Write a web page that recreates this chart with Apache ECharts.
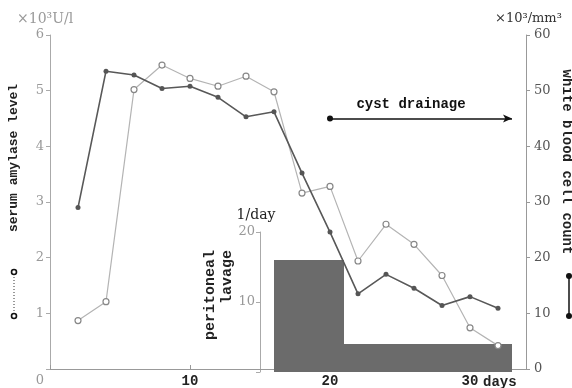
<!DOCTYPE html>
<html>
<head>
<meta charset="utf-8">
<script src="https://cdn.jsdelivr.net/npm/echarts@6/dist/echarts.min.js"></script>
<style>
html, body { margin: 0; padding: 0; background: #fff; }
#chart { width: 572px; height: 388px; }
</style>
</head>
<body>
<div id="chart"></div>
<script>
// day of measurement
var days = [2, 4, 6, 8, 10, 12, 14, 16, 18, 20, 22, 24, 26, 28, 30, 32];
// serum amylase (x10^3 U/l)
var amylase = [0.87, 1.21, 5.02, 5.46, 5.22, 5.08, 5.26, 4.98, 3.16, 3.28, 1.94, 2.60, 2.24, 1.68, 0.74, 0.42];
// white blood cell count (x10^3 /mm3)
var wbc = [29.0, 53.5, 52.8, 50.4, 50.8, 48.8, 45.3, 46.2, 35.2, 24.6, 13.5, 17.0, 14.5, 11.4, 13.0, 10.9];
// peritoneal lavage: from day, to day, times per day
var lavageFrom = [16, 21];
var lavageTo = [21, 33];
var lavagePerDay = [16, 4];
// cyst drainage period
var drainageDays = [20, 33];
var drainageLevel = 45;
var xTickLabels = [10, 20, 30];

var monoBold = 'bold 14px "Liberation Mono"';
var serif = '13px "DejaVu Serif"';

var myChart = echarts.init(document.getElementById('chart'));

var lavageData = [];
for (var i = 0; i < lavageFrom.length; i++) {
    lavageData.push([lavageFrom[i], lavageTo[i], lavagePerDay[i]]);
}

var option = {
    animation: false,
    grid: [
        { left: 50, right: 46, top: 35, bottom: 16 },
        { left: 260, right: 46, top: 232, bottom: 16 }
    ],
    xAxis: [
        {
            type: 'value', gridIndex: 0, min: 0, max: 34, interval: 10,
            splitLine: { show: false },
            axisLine: { lineStyle: { color: '#999', width: 1 } },
            axisTick: { inside: true, length: 4, lineStyle: { color: '#999' } },
            axisLabel: {
                margin: 5, color: '#222', fontFamily: 'Liberation Mono', fontWeight: 'bold', fontSize: 14,
                formatter: function (v) { return xTickLabels.indexOf(v) >= 0 ? String(v) : ''; }
            }
        },
        { type: 'value', gridIndex: 1, min: 15, max: 34, show: false }
    ],
    yAxis: [
        {
            type: 'value', gridIndex: 0, position: 'left', min: 0, max: 6, interval: 1,
            splitLine: { show: false },
            axisLine: { show: true, lineStyle: { color: '#aaa' } },
            axisTick: { show: true, length: 4, lineStyle: { color: '#aaa' } },
            axisLabel: {
                margin: 6, color: '#999', fontFamily: 'DejaVu Serif', fontSize: 13,
                formatter: function (v) { return v === 0 ? '' : String(v); }
            }
        },
        {
            type: 'value', gridIndex: 0, position: 'right', min: 0, max: 60, interval: 10,
            splitLine: { show: false },
            axisLine: { show: true, lineStyle: { color: '#999' } },
            axisTick: { show: true, length: 4, lineStyle: { color: '#999' } },
            axisLabel: { margin: 8, color: '#555', fontFamily: 'DejaVu Serif', fontSize: 13 }
        },
        {
            type: 'value', gridIndex: 1, position: 'left', min: 0, max: 20, interval: 10,
            splitLine: { show: false },
            axisLine: { show: true, lineStyle: { color: '#aaa' } },
            axisTick: { show: true, length: 4, lineStyle: { color: '#aaa' } },
            axisLabel: {
                margin: 5, color: '#999', fontFamily: 'DejaVu Serif', fontSize: 13,
                formatter: function (v) { return v === 0 ? '' : String(v); }
            }
        }
    ],
    series: [
        {
            // peritoneal lavage blocks
            type: 'custom',
            xAxisIndex: 1, yAxisIndex: 2,
            z: 1,
            encode: { x: [0, 1], y: 2 },
            data: lavageData,
            renderItem: function (params, api) {
                var p0 = api.coord([api.value(0), api.value(2)]);
                var p1 = api.coord([api.value(1), 0]);
                return {
                    type: 'rect',
                    shape: { x: p0[0], y: p0[1], width: p1[0] - p0[0], height: p1[1] - p0[1] },
                    style: { fill: '#6b6b6b' }
                };
            }
        },
        {
            name: 'serum amylase',
            type: 'line',
            xAxisIndex: 0, yAxisIndex: 0,
            z: 3,
            symbol: 'circle', symbolSize: 6,
            itemStyle: { color: '#fff', borderColor: '#888', borderWidth: 1.2 },
            lineStyle: { color: '#b4b4b4', width: 1.2 },
            data: days.map(function (d, i) { return [d, amylase[i]]; })
        },
        {
            name: 'white blood cell count',
            type: 'line',
            xAxisIndex: 0, yAxisIndex: 1,
            z: 4,
            symbol: 'circle', symbolSize: 5,
            itemStyle: { color: '#555' },
            lineStyle: { color: '#585858', width: 1.6 },
            data: days.map(function (d, i) { return [d, wbc[i]]; }),
            markLine: {
                silent: true,
                symbol: ['circle', 'arrow'],
                symbolSize: [6, 9],
                label: { show: false },
                lineStyle: { color: '#111', width: 1.5, type: 'solid' },
                data: [[
                    { coord: [drainageDays[0], drainageLevel] },
                    { coord: [drainageDays[1], drainageLevel] }
                ]]
            }
        }
    ],
    graphic: [
        { type: 'text', x: 40, y: 381, style: { text: '0', font: serif, fill: '#999', align: 'center', verticalAlign: 'middle' } },
        { type: 'text', x: 17, y: 19, style: { text: '×10³U/l', font: '14px "DejaVu Serif"', fill: '#999', align: 'left', verticalAlign: 'middle' } },
        { type: 'text', x: 495, y: 19, style: { text: '×10³/mm³', font: serif, fill: '#333', align: 'left', verticalAlign: 'middle' } },
        { type: 'text', x: 256, y: 215, style: { text: '1/day', font: '14px "DejaVu Serif"', fill: '#222', align: 'center', verticalAlign: 'middle' } },
        { type: 'text', x: 411, y: 104, style: { text: 'cyst drainage', font: monoBold, fill: '#111', align: 'center', verticalAlign: 'middle' } },
        { type: 'text', x: 483, y: 382, style: { text: 'days', font: monoBold, fill: '#222', align: 'left', verticalAlign: 'middle' } },
        { type: 'text', x: 14, y: 158, rotation: Math.PI / 2, style: { text: 'serum amylase level', font: 'bold 13px "Liberation Mono"', fill: '#222', align: 'center', verticalAlign: 'middle' } },
        { type: 'text', x: 567, y: 162, rotation: -Math.PI / 2, style: { text: 'white blood cell count', font: monoBold, fill: '#222', align: 'center', verticalAlign: 'middle' } },
        { type: 'text', x: 210, y: 250, rotation: Math.PI / 2, style: { text: 'peritoneal', font: 'bold 15px "Liberation Mono"', fill: '#222', align: 'right', verticalAlign: 'middle' } },
        { type: 'text', x: 227, y: 250, rotation: Math.PI / 2, style: { text: 'lavage', font: 'bold 15px "Liberation Mono"', fill: '#222', align: 'right', verticalAlign: 'middle' } },
        // legend markers
        { type: 'line', shape: { x1: 14, y1: 274, x2: 14, y2: 314 }, style: { stroke: '#333', lineWidth: 1, lineDash: [1, 2] } },
        { type: 'circle', shape: { cx: 14, cy: 272, r: 2.5 }, style: { fill: '#fff', stroke: '#111', lineWidth: 1.6 } },
        { type: 'circle', shape: { cx: 14, cy: 316, r: 2.5 }, style: { fill: '#fff', stroke: '#111', lineWidth: 1.6 } },
        { type: 'line', shape: { x1: 569, y1: 276, x2: 569, y2: 316 }, style: { stroke: '#111', lineWidth: 1.5 } },
        { type: 'circle', shape: { cx: 569, cy: 276, r: 3 }, style: { fill: '#111' } },
        { type: 'circle', shape: { cx: 569, cy: 316, r: 3 }, style: { fill: '#111' } }
    ]
};

myChart.setOption(option);
</script>
</body>
</html>
